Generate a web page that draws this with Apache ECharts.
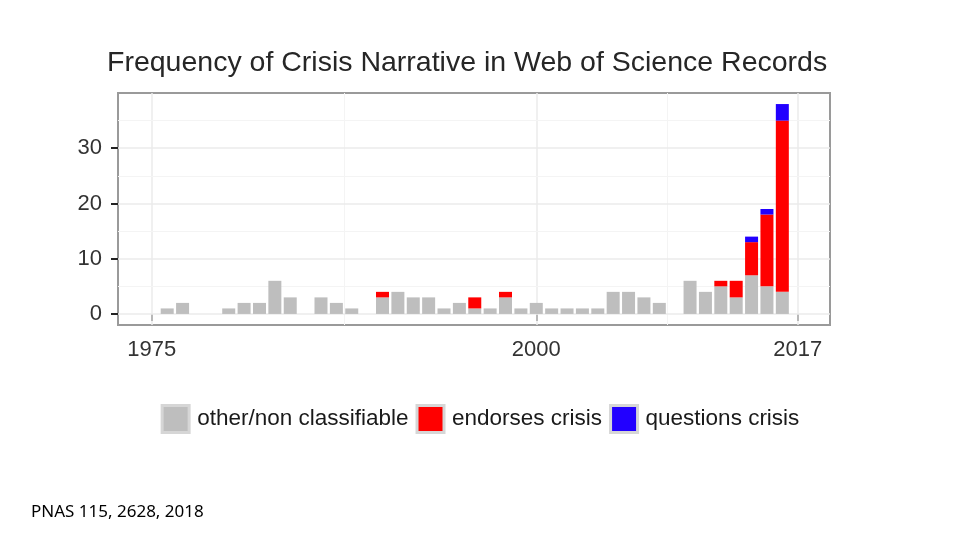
<!DOCTYPE html>
<html>
<head>
<meta charset="utf-8">
<script src="https://cdn.jsdelivr.net/npm/echarts@6/dist/echarts.min.js"></script>
<style>html,body{margin:0;padding:0;background:#fff;}#c{width:960px;height:540px;}</style>
</head>
<body>
<div id="c"></div>
<script>
const years = [1976,1977,1978,1979,1980,1981,1982,1983,1984,1985,1986,1987,1988,1989,1990,1991,1992,1993,1994,1995,1996,1997,1998,1999,2000,2001,2002,2003,2004,2005,2006,2007,2008,2009,2010,2011,2012,2013,2014,2015,2016];
const otherVals = [1,2,0,0,1,2,2,6,3,0,3,2,1,0,3,4,3,3,1,2,1,1,3,1,2,1,1,1,1,4,4,3,2,0,6,4,5,3,7,5,4];
const endorsesVals = [0,0,0,0,0,0,0,0,0,0,0,0,0,0,1,0,0,0,0,0,2,0,1,0,0,0,0,0,0,0,0,0,0,0,0,0,1,3,6,13,31];
const questionsVals = [0,0,0,0,0,0,0,0,0,0,0,0,0,0,0,0,0,0,0,0,0,0,0,0,0,0,0,0,0,0,0,0,0,0,0,0,0,0,1,1,3];
const seriesNames = ['other/non classifiable','endorses crisis','questions crisis'];
const xTickLabels = [1975, 2000, 2017];
const xMinorGrid = [1987.5, 2008.5];
const yTickLabels = [0, 10, 20, 30];
const yMinorGrid = [5, 15, 25, 35];

// [count, year] so that the count dimension is the stacked one
const toPairs = vals => years.map((y, i) => [vals[i], y]);
const chart = echarts.init(document.getElementById('c'), null, {renderer: 'canvas'});
const FONT = 'Liberation Sans, Arial, sans-serif';
const barCommon = {type: 'bar', stack: 'total', barWidth: 13, z: 5, encode: {x: 1, y: 0}, emphasis: {disabled: true}};
const gridLines = []
  .concat(xTickLabels.map(v => ({xAxis: v, lineStyle: {color: '#ebebeb', width: 1.5, type: 'solid'}})))
  .concat(xMinorGrid.map(v => ({xAxis: v, lineStyle: {color: '#f4f4f4', width: 1, type: 'solid'}})))
  .concat(yTickLabels.map(v => ({yAxis: v, lineStyle: {color: '#ebebeb', width: 1.5, type: 'solid'}})))
  .concat(yMinorGrid.map(v => ({yAxis: v, lineStyle: {color: '#f4f4f4', width: 1, type: 'solid'}})));

chart.setOption({
  animation: false,
  backgroundColor: '#ffffff',
  title: {
    text: 'Frequency of Crisis Narrative in Web of Science Records',
    left: 102, top: 44,
    textStyle: {fontFamily: FONT, fontSize: 28.5, fontWeight: 'normal', color: '#262626'}
  },
  legend: {
    data: seriesNames,
    left: 'center', top: 399,
    icon: 'rect', itemWidth: 27, itemHeight: 27, itemGap: 7,
    textStyle: {fontFamily: FONT, fontSize: 22.5, color: '#1a1a1a', padding: [0,0,0,3]},
    itemStyle: {borderColor: '#d6d6d6', borderWidth: 3}
  },
  grid: {
    left: 118, right: 130, top: 93, bottom: 215,
    show: true, borderColor: '#9a9a9a', borderWidth: 2, backgroundColor: '#ffffff'
  },
  xAxis: {
    type: 'value', min: 1972.8, max: 2019.1,
    axisLine: {show: false},
    splitLine: {show: false},
    axisTick: {show: true, customValues: xTickLabels, length: 7, lineStyle: {color: '#222', width: 2}},
    axisLabel: {customValues: xTickLabels, margin: 14, fontFamily: FONT, fontSize: 22, color: '#333333', formatter: v => String(v)}
  },
  yAxis: {
    type: 'value', min: -2, max: 40,
    axisLine: {show: false},
    splitLine: {show: false},
    axisTick: {show: true, customValues: yTickLabels, length: 7, lineStyle: {color: '#222', width: 2}},
    axisLabel: {customValues: yTickLabels, margin: 16, fontFamily: FONT, fontSize: 22, color: '#333333'}
  },
  series: [
    {type: 'line', data: [], z: 1, silent: true,
     markLine: {z: 1, silent: true, symbol: ['none','none'], label: {show: false}, animation: false, data: gridLines}},
    Object.assign({name: seriesNames[0], data: toPairs(otherVals), itemStyle: {color: '#bebebe'}}, barCommon),
    Object.assign({name: seriesNames[1], data: toPairs(endorsesVals), itemStyle: {color: '#ff0000'}}, barCommon),
    Object.assign({name: seriesNames[2], data: toPairs(questionsVals), itemStyle: {color: '#2200ff'}}, barCommon)
  ],
  graphic: [{
    type: 'text', left: 31, top: 504,
    style: {text: 'PNAS 115, 2628, 2018', fontFamily: 'Noto Sans, Open Sans, sans-serif', fontSize: 17, fill: '#000'}
  }]
});
</script>
</body>
</html>
